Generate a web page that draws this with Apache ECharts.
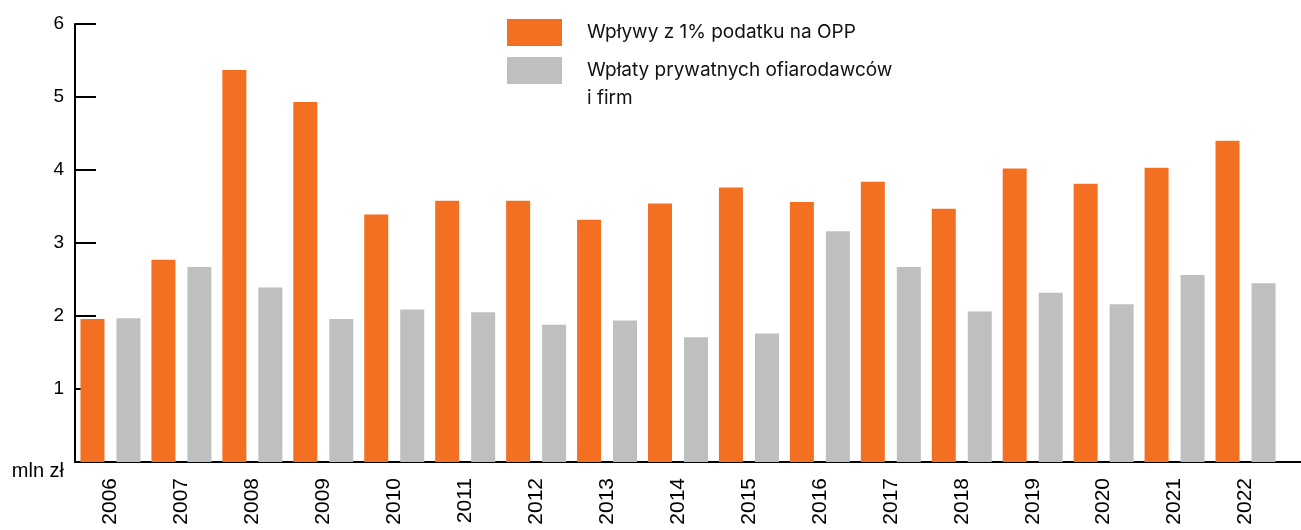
<!DOCTYPE html>
<html>
<head>
<meta charset="utf-8">
<script src="https://cdn.jsdelivr.net/npm/echarts@6/dist/echarts.min.js"></script>
<style>
html,body{margin:0;padding:0;background:#fff;}
#chart{width:1301px;height:530px;}
</style>
</head>
<body>
<div id="chart"></div>
<script>
const categories = ['2006','2007','2008','2009','2010','2011','2012','2013','2014','2015','2016','2017','2018','2019','2020','2021','2022'];
const onePercent = [1.96, 2.77, 5.37, 4.93, 3.39, 3.58, 3.58, 3.32, 3.54, 3.76, 3.56, 3.84, 3.47, 4.02, 3.81, 4.03, 4.40];
const donations  = [1.97, 2.67, 2.39, 1.96, 2.09, 2.05, 1.88, 1.94, 1.71, 1.76, 3.16, 2.67, 2.06, 2.32, 2.16, 2.56, 2.45];
const yTickLabels = ['mln zł','1','2','3','4','5','6'];
const seriesNames = ['Wpływy z 1% podatku na OPP', 'Wpłaty prywatnych ofiarodawców i firm'];
const legendLines = ['Wpływy z 1% podatku na OPP', 'Wpłaty prywatnych ofiarodawców', 'i firm'];

const chart = echarts.init(document.getElementById('chart'), null, {renderer:'canvas'});
const axisFont = 'Liberation Sans, Arial, sans-serif';
const legendFont = 'Inter, sans-serif';

chart.setOption({
  animation: false,
  backgroundColor: '#ffffff',
  grid: [
    {left: 75, right: 20, top: 24, bottom: 68},
    {left: 75, right: 0, top: 24, bottom: 68}
  ],
  legend: {
    orient: 'vertical',
    left: 507,
    top: 19,
    padding: 0,
    itemWidth: 55,
    itemHeight: 27,
    itemGap: 11,
    icon: 'rect',
    selectedMode: false,
    data: seriesNames,
    formatter: function (name) {
      return name === seriesNames[0] ? legendLines[0] : legendLines[1];
    },
    textStyle: {
      fontFamily: legendFont,
      fontSize: 19,
      color: '#111',
      padding: [2, 0, 0, 20]
    }
  },
  graphic: [{
    type: 'text',
    left: 587,
    top: 89,
    style: {
      text: legendLines[2],
      font: '19px Inter, sans-serif',
      fill: '#111'
    }
  }],
  xAxis: [{
    type: 'category',
    gridIndex: 0,
    data: categories,
    axisLine: {show: false},
    axisTick: {show: false},
    axisLabel: {
      rotate: 90,
      margin: 16,
      fontSize: 21,
      fontFamily: axisFont,
      color: '#000'
    }
  }, {
    type: 'value',
    gridIndex: 1,
    min: 0,
    max: 1,
    axisLine: {show: true, lineStyle: {color: '#000', width: 2}},
    axisTick: {show: false},
    axisLabel: {show: false},
    splitLine: {show: false}
  }],
  yAxis: [{
    type: 'value',
    gridIndex: 0,
    min: 0,
    max: 6,
    interval: 1,
    axisLine: {show: true, lineStyle: {color: '#000', width: 2}},
    axisTick: {show: true, inside: true, length: 21, lineStyle: {color: '#000', width: 2}},
    splitLine: {show: false},
    axisLabel: {
      margin: 11,
      fontSize: 19,
      fontFamily: axisFont,
      color: '#000',
      formatter: function (v) {
        const t = yTickLabels[Math.round(v)];
        return v === 0 ? '{u|' + t + '}' : t;
      },
      rich: {
        u: {fontSize: 20, fontFamily: axisFont, color: '#000', padding: [18, 0, 0, 0]}
      }
    }
  }, {
    type: 'value',
    gridIndex: 1,
    show: false,
    min: 0,
    max: 6
  }],
  series: [{
    name: seriesNames[0],
    type: 'bar',
    xAxisIndex: 0,
    yAxisIndex: 0,
    data: onePercent,
    barWidth: 24,
    barGap: '50%',
    itemStyle: {color: '#F37023'}
  }, {
    name: seriesNames[1],
    type: 'bar',
    xAxisIndex: 0,
    yAxisIndex: 0,
    data: donations,
    barWidth: 24,
    barGap: '50%',
    itemStyle: {color: '#BEBFC1'}
  }]
});
</script>
</body>
</html>
